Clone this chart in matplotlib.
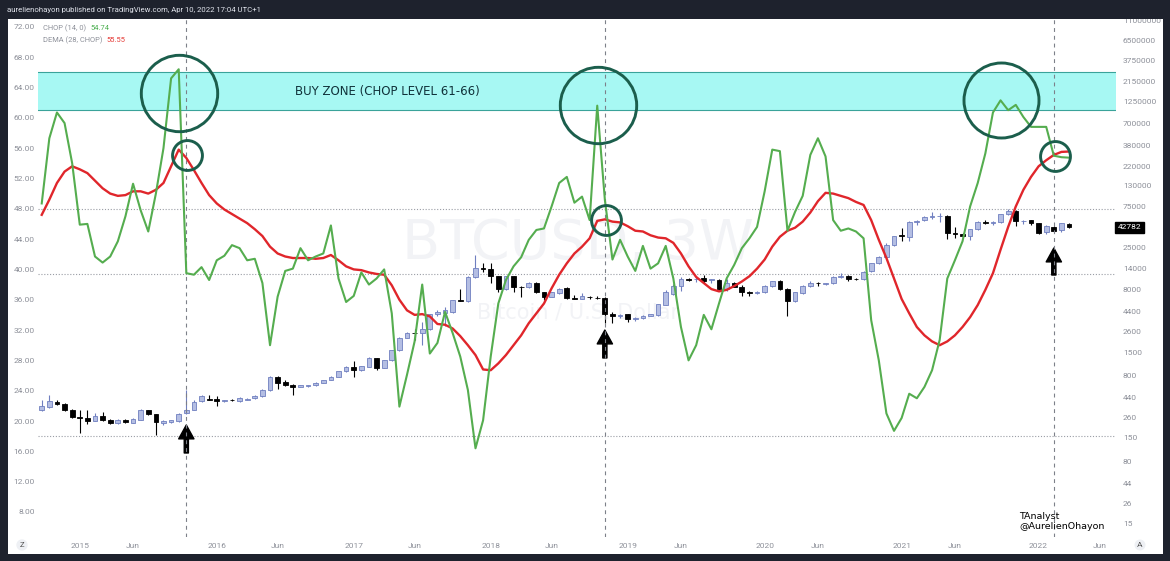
import numpy as np
import matplotlib.pyplot as plt
import matplotlib as mpl
from matplotlib.patches import Rectangle

mpl.rcParams['font.family'] = ['Roboto', 'DejaVu Sans']

# BTCUSD 3W candles, Sep 2014 .. Apr 2022
opens = [315, 345, 395, 374, 321, 264, 256, 237, 272, 245,
         225, 245, 225, 245, 315, 281, 226, 228, 235, 290,
         321, 400, 428, 428, 405, 419, 400, 420, 435, 460,
         540, 772, 670, 628, 590, 600, 616, 658, 705, 772,
         897, 1009, 921, 1009, 1286, 983, 1205, 1577, 2201, 2517,
         2470, 2750, 4114, 4300, 4378, 6041, 5880, 11325, 14430, 14040,
         11500, 8208, 11500, 8660, 8500, 9640, 7490, 6650, 7300, 8400,
         6447, 6300, 6600, 6450, 6400, 4114, 4000, 4114, 3597, 3700,
         3950, 4050, 5300, 7200, 8800, 10740, 10535, 11000, 10300, 10500,
         8054, 9640, 8600, 7490, 7300, 7490, 8800, 9990, 8200, 5880,
         7300, 8800, 9640, 9300, 9460, 11300, 11600, 10740, 10740, 13300,
         16190, 19380, 26270, 34500, 33000, 49130, 51500, 56800, 57500, 58500,
         36930, 35500, 34000, 40370, 49600, 47500, 49130, 60400, 66000, 50000,
         51500, 48000, 37500, 43000, 39500, 47000]
highs = [419, 470, 419, 380, 325, 315, 315, 292, 300, 250,
         248, 250, 256, 325, 320, 285, 240, 245, 290, 539,
         410, 480, 479, 460, 420, 425, 445, 435, 470, 555,
         785, 790, 705, 645, 620, 625, 665, 710, 780, 905,
         1020, 1173, 1040, 1300, 1290, 1220, 1590, 2220, 2550, 2750,
         3390, 4200, 4700, 5000, 6100, 8054, 11500, 20070, 16500, 16500,
         11700, 11700, 11700, 8900, 9800, 9800, 7600, 7600, 8400, 8500,
         7000, 7300, 6800, 6700, 6500, 4400, 4200, 4200, 3800, 4100,
         4200, 5500, 8000, 9200, 11325, 11000, 11700, 12000, 10800, 10600,
         10535, 9800, 9000, 7700, 7800, 9000, 10200, 10500, 8300, 7600,
         9100, 10000, 9900, 9600, 11500, 12400, 12000, 11000, 13300, 16400,
         19800, 28000, 34000, 42000, 50000, 52000, 58000, 65000, 62000, 59500,
         43000, 36500, 41000, 50000, 52000, 50000, 61500, 69000, 67500, 52000,
         52000, 48500, 45000, 44500, 48000, 48200]
lows = [306, 330, 367, 306, 258, 171, 215, 233, 238, 215,
        220, 224, 222, 240, 276, 160, 210, 225, 232, 285,
        318, 395, 415, 356, 395, 405, 395, 415, 430, 455,
        530, 560, 610, 479, 580, 595, 610, 650, 700, 765,
        890, 772, 910, 1000, 939, 970, 1190, 1560, 2180, 2100,
        1838, 2700, 4000, 3000, 4300, 5880, 5800, 11000, 12900, 9460,
        7600, 8000, 7440, 6650, 8300, 7400, 6041, 6500, 7200, 6200,
        6200, 6200, 6300, 6200, 3290, 3270, 3700, 3400, 3450, 3650,
        3900, 4000, 5250, 7000, 7690, 10200, 9900, 9700, 9700, 7900,
        7690, 8500, 6800, 6800, 7100, 7400, 8600, 8000, 3930, 5700,
        7100, 8600, 8900, 9000, 9300, 11000, 10200, 10400, 10500, 13000,
        16000, 19000, 26000, 29500, 29500, 46000, 50500, 53000, 49500, 30860,
        32000, 33000, 30000, 39500, 46500, 45000, 48000, 59000, 44000, 47000,
        46000, 35300, 36000, 37500, 38000, 42000]
closes = [357, 400, 374, 315, 264, 256, 237, 272, 245, 221,
          242, 228, 250, 315, 281, 230, 235, 240, 281, 321,
          392, 466, 419, 400, 419, 410, 440, 430, 466, 549,
          772, 660, 628, 584, 612, 612, 658, 705, 772, 897,
          1009, 921, 1026, 1286, 983, 1205, 1577, 2201, 2517, 2470,
          2750, 4114, 4378, 4700, 6041, 5880, 11325, 14430, 14040, 11500,
          8208, 11500, 8660, 8600, 9640, 7490, 6650, 7440, 8210, 6447,
          6300, 6780, 6500, 6400, 4114, 4000, 4050, 3597, 3700, 3950,
          4114, 5382, 7440, 8800, 10740, 10500, 10800, 9990, 10535, 8054,
          9640, 8600, 7600, 7300, 7600, 8800, 9990, 8200, 5880, 7440,
          8900, 9640, 9460, 9460, 11325, 11600, 10535, 10600, 13000, 16190,
          19380, 26270, 33720, 33700, 49130, 51000, 56800, 57500, 58500, 36930,
          35500, 34000, 40370, 49130, 47500, 49000, 60400, 66000, 50440, 50800,
          48000, 36930, 43700, 38500, 47500, 42782]

chop = [48.7, 57.3, 60.7, 59.3, 54.0, 45.9, 46.0, 41.7, 40.9, 41.7,
        43.7, 47.0, 51.3, 47.8, 45.0, 50.0, 56.0, 65.2, 66.4, 39.5,
        39.3, 40.3, 38.6, 41.2, 41.8, 43.2, 42.8, 41.2, 41.4, 38.2,
        30.0, 36.4, 39.8, 40.1, 42.8, 41.2, 41.7, 42.1, 45.8, 38.8,
        35.7, 36.5, 39.6, 38.0, 38.8, 40.0, 34.2, 21.9, 26.1, 30.5,
        38.0, 28.9, 30.3, 34.4, 31.6, 28.5, 24.1, 16.4, 20.1, 28.5,
        35.5, 38.6, 40.4, 41.6, 43.9, 45.2, 45.4, 48.3, 51.4, 52.2,
        48.8, 49.6, 46.5, 61.6, 49.2, 41.3, 43.9, 41.7, 39.8, 43.1,
        40.1, 40.8, 43.1, 38.8, 32.4, 28.0, 30.0, 34.0, 32.1, 35.5,
        38.8, 40.6, 42.8, 44.1, 45.6, 50.3, 55.8, 55.6, 45.1, 47.6,
        49.7, 55.1, 57.3, 54.9, 46.5, 45.1, 45.4, 45.0, 44.1, 33.3,
        28.0, 21.0, 18.7, 20.4, 23.6, 23.0, 24.5, 26.7, 30.7, 38.8,
        41.2, 43.7, 48.3, 51.4, 55.3, 60.7, 62.3, 61.0, 61.7, 60.1,
        58.8, 58.8, 58.8, 55.0, 54.8, 54.74]
dema = [47.2, 49.2, 51.4, 52.9, 53.6, 53.2, 52.7, 51.7, 50.7, 50.0,
        49.7, 49.8, 50.3, 50.3, 50.0, 50.5, 51.4, 53.6, 55.8, 54.7,
        53.1, 51.4, 49.8, 48.7, 47.9, 47.3, 46.7, 46.1, 45.3, 44.4,
        43.0, 42.1, 41.7, 41.5, 41.5, 41.5, 41.4, 41.5, 41.9, 41.2,
        40.4, 40.0, 39.9, 39.6, 39.4, 39.3, 37.9, 36.0, 34.6, 34.0,
        34.1, 33.8, 32.8, 32.7, 32.2, 31.2, 30.0, 28.7, 26.8, 26.7,
        27.6, 28.7, 30.0, 31.3, 32.9, 34.2, 35.5, 37.5, 39.3, 40.8,
        42.1, 43.0, 44.1, 46.4, 46.6, 46.3, 46.2, 45.7, 45.1, 45.0,
        44.5, 44.2, 44.1, 43.5, 42.1, 40.4, 39.0, 38.2, 37.4, 37.1,
        37.3, 37.8, 38.4, 39.1, 40.1, 41.3, 43.0, 44.3, 45.1, 45.5,
        46.3, 47.5, 49.0, 50.1, 50.0, 49.7, 49.4, 48.9, 48.5, 46.5,
        43.9, 41.5, 38.8, 36.1, 34.2, 32.4, 31.3, 30.5, 30.0, 30.5,
        31.3, 32.4, 33.7, 35.3, 37.3, 39.5, 42.6, 45.6, 48.3, 50.5,
        52.2, 53.6, 54.4, 55.1, 55.5, 55.55]

# time axis labels (candle index of first bar of year / June)
tick_pos = [5, 12, 23, 31, 41, 49, 59, 67, 77, 84, 95, 102, 113, 120, 131, 139]
tick_lab = ['2015', 'Jun', '2016', 'Jun', '2017', 'Jun', '2018', 'Jun',
            '2019', 'Jun', '2020', 'Jun', '2021', 'Jun', '2022', 'Jun']
chop_ticks = [8, 12, 16, 20, 24, 28, 32, 36, 40, 44, 48, 52, 56, 60, 64, 68, 72]
price_ticks = [15, 26, 44, 80, 150, 260, 440, 800, 1500, 2600, 4400, 8000, 14000,
               25000, 75000, 130000, 220000, 380000, 700000, 1250000, 2150000,
               3750000, 6500000, 11000000]
price_levels = [69100, 12050, 159]
buy_zone = (61, 66)
signal_bars = [19, 74, 133]
arrow_tip = [212, 2712, 24500]
arrow_tail = [100, 1280, 11860]
circle_x = [18.0, 19.1, 73.1, 74.15, 126.1, 133.1]
circle_y = [63.3, 55.1, 61.7, 46.5, 62.3, 55.0]
circle_d = [55, 21.5, 55, 21.5, 54, 21.5]

bg = '#1e222d'
grey = '#8d9099'
up_face, up_edge = '#b4bee3', '#6f7fc0'

fig = plt.figure(figsize=(11.7, 5.61), dpi=100, facecolor=bg)
fig.add_artist(Rectangle((8/1170, 7/561), 1155/1170, 535/561, transform=fig.transFigure,
                         facecolor='white', edgecolor='none', zorder=-5))
ax = fig.add_axes([38/1170, 24/561, 1078/1170, 518/561])
ax2 = ax.twinx()
ax.set_zorder(ax2.get_zorder() + 1)
ax.patch.set_visible(False)
ax2.patch.set_visible(False)

idx = np.arange(len(closes))
o, h, l, c = map(np.array, (opens, highs, lows, closes))
up = c >= o

# watermark
ax2.text(0.501, 0.565, 'BTCUSD, 3W', transform=ax2.transAxes, ha='center', va='center',
         fontsize=40, color='#f2f3f6', family='DejaVu Sans', zorder=0)
ax2.text(0.501, 0.434, 'Bitcoin / U.S. Dollar', transform=ax2.transAxes, ha='center',
         va='center', fontsize=15, color='#f2f3f6', family='DejaVu Sans', zorder=0)

# candles
ax2.vlines(idx[up], l[up], h[up], color=up_edge, lw=0.8, zorder=2)
ax2.vlines(idx[~up], l[~up], h[~up], color='black', lw=0.8, zorder=2)
lo = np.minimum(o, c)
hgt = np.abs(c - o)
ax2.bar(idx[up], hgt[up], bottom=lo[up], width=0.62, color=up_face, edgecolor=up_edge, lw=0.6, zorder=3)
ax2.bar(idx[~up], hgt[~up], bottom=lo[~up], width=0.62, color='black', edgecolor='black', lw=0.6, zorder=3)

for p in price_levels:
    ax2.axhline(p, color='#9a9da5', lw=0.8, ls=(0, (1, 1.6)), zorder=1)

for xb, tip, tail in zip(signal_bars, arrow_tip, arrow_tail):
    ax2.annotate('', xy=(xb, tip), xytext=(xb, tail),
                 arrowprops=dict(facecolor='black', edgecolor='black', width=3.0,
                                 headwidth=11, headlength=10, shrink=0))

ax2.set_yscale('log')
ax2.set_ylim(10.49, 1.143e7)
ax2.set_yticks(price_ticks)
ax2.set_yticklabels([str(t) for t in price_ticks])
ax2.yaxis.set_minor_locator(mpl.ticker.NullLocator())
ax2.tick_params(axis='y', length=0, pad=5, labelsize=6, labelcolor=grey)

# CHOP pane
ax.axhspan(*buy_zone, facecolor='#a7f8f3', edgecolor='none', zorder=0)
for lv in buy_zone:
    ax.axhline(lv, color='#3aa39a', lw=0.8, zorder=0.5)
ax.text(33.3, 63.5, 'BUY ZONE (CHOP LEVEL 61-66)', fontsize=8.5, color='#10323a',
        va='center', ha='left', family='DejaVu Sans')

for xb in signal_bars:
    ax.axvline(xb, color='#7d8089', lw=0.8, ls=(0, (3.5, 3.5)), zorder=1)

ax.plot(idx, dema, color='#e0262b', lw=1.7, zorder=4)
ax.plot(idx, chop, color='#55ad4f', lw=1.5, zorder=5)

for cx, cy, d in zip(circle_x, circle_y, circle_d):
    ax.plot(cx, cy, 'o', ms=d, mfc='none', mec='#1b5e4c', mew=2.1, zorder=6)

ax.set_xlim(-0.49, 141.17)
ax.set_ylim(4.70, 73.03)
ax.set_yticks(chop_ticks)
ax.set_yticklabels(['%.2f' % t for t in chop_ticks])
ax.set_xticks(tick_pos)
ax.set_xticklabels(tick_lab)
ax.tick_params(axis='y', length=0, pad=2.5, labelsize=6, labelcolor=grey)
ax.tick_params(axis='x', length=0, pad=4, labelsize=6, labelcolor=grey)
for a in (ax, ax2):
    for s in a.spines.values():
        s.set_visible(False)

# indicator legend
t1 = ax.text(0.0046, 0.981, 'CHOP (14, 0)', transform=ax.transAxes, fontsize=5.4,
             color=grey, va='center', ha='left')
ax.annotate('%.2f' % chop[-1], xy=(1, 0.5), xycoords=t1, xytext=(3, 0),
            textcoords='offset points', fontsize=5.4, color='#4caf50', va='center')
t2 = ax.text(0.0046, 0.959, 'DEMA (28, CHOP)', transform=ax.transAxes, fontsize=5.4,
             color=grey, va='center', ha='left')
ax.annotate('%.2f' % dema[-1], xy=(1, 0.5), xycoords=t2, xytext=(3, 0),
            textcoords='offset points', fontsize=5.4, color='#e53935', va='center')

# last price tag
ax2.text(1.0014, closes[-1], str(closes[-1]), transform=ax2.get_yaxis_transform(),
         fontsize=6, color='white', va='center', ha='left',
         bbox=dict(boxstyle='square,pad=0.3', facecolor='black', edgecolor='black'))

ax.text(0.9105, 0.030, 'TAnalyst\n@AurelienOhayon', transform=ax.transAxes, fontsize=6.8,
        color='black', ha='left', va='center', linespacing=1.15, family='DejaVu Sans')

# title bar
fig.add_artist(Rectangle((0, 542/561), 1, 19/561, transform=fig.transFigure,
                         facecolor=bg, edgecolor='none', zorder=10))
fig.text(7/1170, 1 - 10/561, 'aurelienohayon published on TradingView.com, Apr 10, 2022 17:04 UTC+1',
         fontsize=5.6, color='#e0e3eb', va='center', ha='left', zorder=11)
fig.text(22/1170, 1 - 545/561, 'Z', fontsize=5.5, color='#555', ha='center', va='center',
         bbox=dict(boxstyle='circle,pad=0.35', facecolor='#eef0f4', edgecolor='none'))
fig.text(1140/1170, 1 - 545/561, 'A', fontsize=6, color='#555', ha='center', va='center',
         bbox=dict(boxstyle='circle,pad=0.3', facecolor='#eef0f4', edgecolor='none'))

fig.savefig('out.png', dpi=100, facecolor=bg)
